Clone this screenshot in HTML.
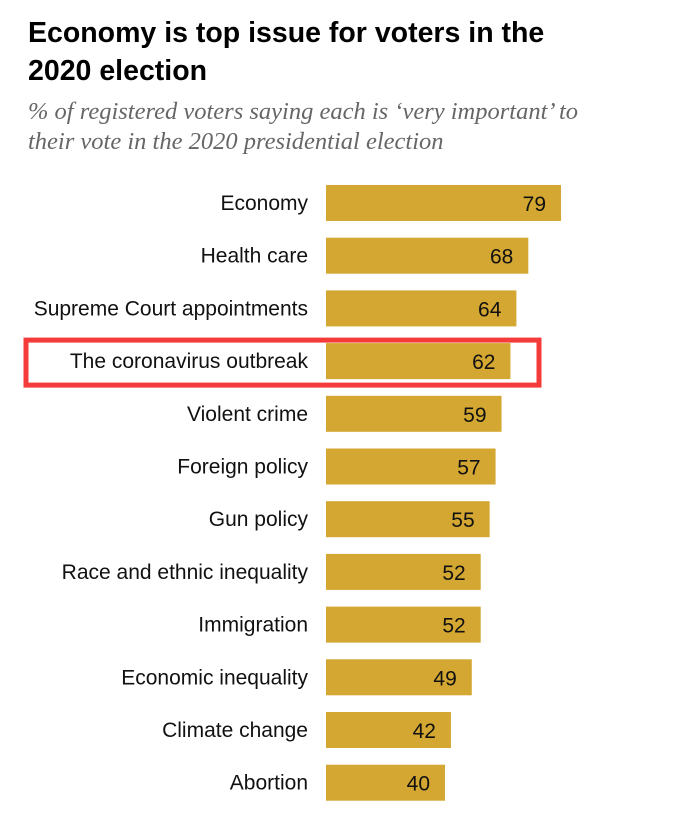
<!DOCTYPE html>
<html><head><meta charset="utf-8"><style>
body{margin:0;background:#fff;width:696px;height:822px;overflow:hidden;font-family:"Liberation Sans",sans-serif;}
#title{position:absolute;left:28px;top:14px;font-size:28.5px;font-weight:bold;line-height:38px;color:#000;white-space:nowrap;}
#sub{position:absolute;left:28px;top:97px;font-family:"Liberation Serif",serif;font-style:italic;font-size:24.5px;line-height:30px;color:#666;white-space:nowrap;}
</style></head><body>
<div id="title">Economy is top issue for voters in the<br>2020 election</div>
<div id="sub">% of registered voters saying each is ‘very important’ to<br>their vote in the 2020 presidential election</div>
<svg id="chart" width="696" height="822" style="position:absolute;left:0;top:0"></svg>
<script>
const categories=["Economy","Health care","Supreme Court appointments","The coronavirus outbreak","Violent crime","Foreign policy","Gun policy","Race and ethnic inequality","Immigration","Economic inequality","Climate change","Abortion"];
const values=[79,68,64,62,59,57,55,52,52,49,42,40];
const highlighted=["The coronavirus outbreak"];
const svg=document.getElementById('chart');
const NS='http://www.w3.org/2000/svg';
const x0=326,pxPer=2.975,y0=185,step=52.7,bh=36;
const xs=v=>x0+v*pxPer;
const ys=i=>y0+i*step;
categories.forEach((c,i)=>{
  const y=ys(i);
  if(highlighted.includes(c)){
    const r=document.createElementNS(NS,'rect');
    
    
    r.setAttribute('x',26);r.setAttribute('y',y-3);r.setAttribute('width',513);r.setAttribute('height',bh+9);
    r.setAttribute('fill','none');r.setAttribute('stroke','#f53a3a');r.setAttribute('stroke-width',5);
    svg.appendChild(r);
  }
  const b=document.createElementNS(NS,'rect');
  
  
  b.setAttribute('x',x0);b.setAttribute('y',y);b.setAttribute('width',xs(values[i])-x0);b.setAttribute('height',bh);
  b.setAttribute('fill','#d3a731');
  svg.appendChild(b);
  const l=document.createElementNS(NS,'text');
  
  
  l.setAttribute('x',308);l.setAttribute('y',y+bh/2+7);l.setAttribute('text-anchor','end');
  l.setAttribute('font-size','21');l.setAttribute('fill','#111');l.textContent=c;
  svg.appendChild(l);
  const t=document.createElementNS(NS,'text');
  
  
  t.setAttribute('x',xs(values[i])-15);t.setAttribute('y',y+bh/2+8);t.setAttribute('text-anchor','end');
  t.setAttribute('font-size','21');t.setAttribute('fill','#111');t.textContent=values[i];
  svg.appendChild(t);
});
</script>
</body></html>
